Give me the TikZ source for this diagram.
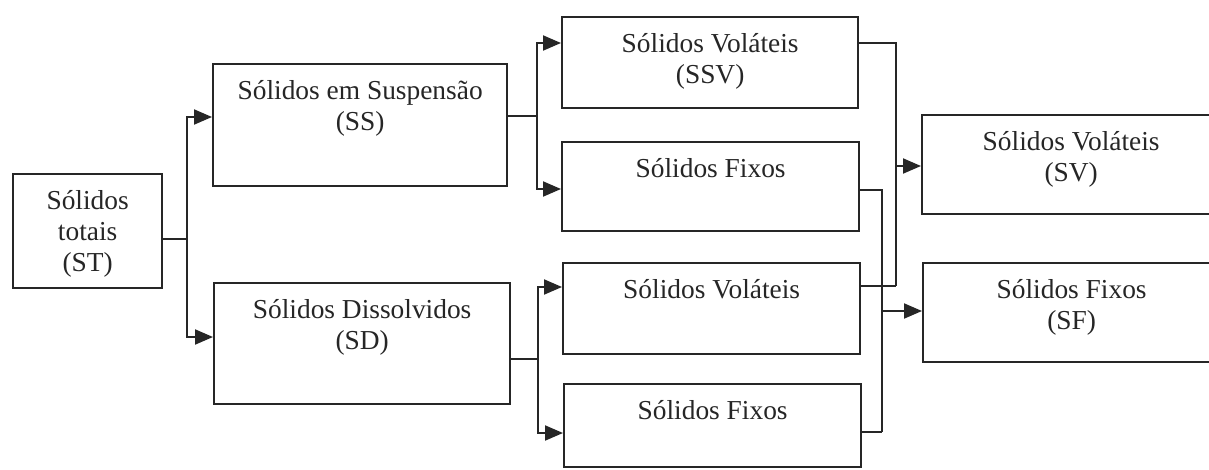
\documentclass[tikz,border=0pt]{standalone}
\usepackage{fontspec}
\setmainfont{Liberation Serif}
\usetikzlibrary{arrows.meta,positioning}

\tikzset{
  blk/.style={draw=black!85, line width=2.3pt, rectangle, inner sep=0pt},
  txt/.style={anchor=north, align=center, inner sep=0pt, text=black!85,
              font=\fontsize{27.4}{31}\selectfont, yshift=-17pt},
  wire/.style={draw=black!85, line width=2pt},
  arr/.style={wire, -{Triangle[length=18pt,width=15pt]}},
}

% box from its top-left corner, size and caption
\newcommand{\blockat}[6]{%
  \node[blk, minimum width=#4pt, minimum height=#5pt, anchor=north west] (#1) at (#2,#3) {};
  \node[txt] (#1-t) at (#1.north) {#6};
}

\begin{document}
\begin{tikzpicture}[x=1pt,y=-1pt]
\useasboundingbox[fill=white] (0,0) rectangle (1209,469);

% blocks
\blockat{st}{12}{173}{149}{114}{Sólidos\\totais\\(ST)}
\blockat{ss}{212}{63}{294}{122}{Sólidos em Suspensão\\(SS)}
\blockat{sd}{213}{282}{296}{121}{Sólidos Dissolvidos\\(SD)}
\blockat{ssv}{561}{16}{296}{91}{Sólidos Voláteis\\(SSV)}
\blockat{sfa}{561}{141}{297}{89}{Sólidos Fixos}
\blockat{svb}{562}{262}{297}{91}{Sólidos Voláteis}
\blockat{sfb}{563}{383}{297}{83}{Sólidos Fixos}
\blockat{sv}{921}{114}{298}{99}{Sólidos Voláteis\\(SV)}
\blockat{sf}{922}{262}{297}{99}{Sólidos Fixos\\(SF)}

% junction points
\coordinate (t0) at (187,239);
\coordinate (t1) at (187,117);
\coordinate (t2) at (187,337);
\coordinate (u0) at (537,116);
\coordinate (u1) at (537,43);
\coordinate (u2) at (537,189);
\coordinate (d0) at (538,359);
\coordinate (d1) at (538,287);
\coordinate (d2) at (538,433);
\coordinate (v1) at (896,43);
\coordinate (v2) at (896,286);
\coordinate (v3) at (896,166);
\coordinate (f1) at (882,190);
\coordinate (f2) at (882,432);
\coordinate (f3) at (882,311);

% total solids split
\draw[wire] (st.east |- t0) -- (t0);
\draw[arr] (t0) |- (ss.west |- t1);
\draw[arr] (t0) |- (sd.west |- t2);

% suspended solids split
\draw[wire] (ss.east |- u0) -- (u0);
\draw[arr] (u0) |- (ssv.west |- u1);
\draw[arr] (u0) |- (sfa.west |- u2);

% dissolved solids split
\draw[wire] (sd.east |- d0) -- (d0);
\draw[arr] (d0) |- (svb.west |- d1);
\draw[arr] (d0) |- (sfb.west |- d2);

% volatile solids collect
\draw[wire] (ssv.east |- v1) -- (v1) -- (v2);
\draw[wire] (svb.east |- v2) -- (v2);
\draw[arr] (v3) -- (sv.west |- v3);

% fixed solids collect
\draw[wire] (sfa.east |- f1) -- (f1) -- (f2);
\draw[wire] (sfb.east |- f2) -- (f2);
\draw[arr] (f3) -- (sf.west |- f3);
\end{tikzpicture}
\end{document}
